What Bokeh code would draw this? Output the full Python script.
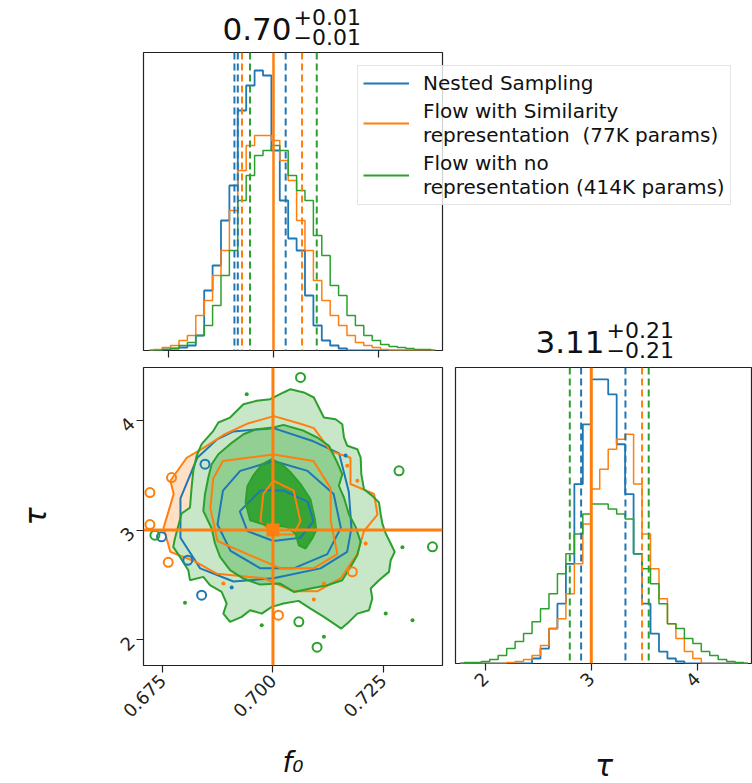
from math import pi
from bokeh.plotting import figure
from bokeh.models import (Range1d, Span, Label, Legend, LegendItem, FixedTicker,
                          NumeralTickFormatter, GridBox)
from bokeh.embed import file_html
from bokeh.resources import INLINE

BLUE = "#1f77b4"
ORANGE = "#ff7f0e"
GREEN = "#2ca02c"
FONT = "DejaVu Sans"

# ---------------- data ----------------
series_names = ["Nested Sampling",
                "Flow with Similarity\nrepresentation  (77K params)",
                "Flow with no\nrepresentation (414K params)"]

truth_f0 = 0.700
truth_tau = 3.0

f0_title = ["0.70", "+0.01", "\u22120.01"]
tau_title = ["3.11", "+0.21", "\u22120.21"]

f0_ticks = [0.675, 0.700, 0.725]
tau_ticks = [2, 3, 4]

f0_centers = [0.6705, 0.6725, 0.6745, 0.6765, 0.6785, 0.6805, 0.6825, 0.6845, 0.6865,
              0.6885, 0.6905, 0.6925, 0.6945, 0.6965, 0.6985, 0.7005, 0.7025, 0.7045,
              0.7065, 0.7085, 0.7105, 0.7125, 0.7145, 0.7165, 0.7185, 0.7205, 0.7225,
              0.7245, 0.7265, 0.7285, 0.7305, 0.7325, 0.7345, 0.7365, 0.7385]
f0_hist_blue = [0, 0, 1, 2, 3, 5, 15, 60, 85, 130, 165, 240, 265, 280, 275, 200, 150, 112,
                100, 55, 25, 10, 5, 2, 0, 0, 0, 0, 0, 0, 0, 0, 0, 0, 0]
f0_hist_orange = [0, 1, 3, 5, 10, 15, 35, 50, 75, 100, 140, 180, 205, 215, 215, 210, 190, 170,
                  130, 100, 70, 50, 35, 25, 15, 8, 5, 3, 1, 0, 0, 0, 0, 0, 0]
f0_hist_green = [0, 0, 1, 2, 5, 8, 15, 25, 45, 75, 100, 150, 175, 195, 200, 205, 200, 175,
                 160, 150, 115, 95, 65, 55, 35, 25, 15, 10, 6, 4, 3, 2, 1, 1, 0]

tau_centers = [1.76, 1.84, 1.92, 2.00, 2.08, 2.16, 2.24, 2.32, 2.40, 2.48, 2.56, 2.64, 2.72,
               2.80, 2.88, 2.96, 3.04, 3.12, 3.20, 3.28, 3.36, 3.44, 3.52, 3.60, 3.68, 3.76,
               3.84, 3.92, 4.00, 4.08, 4.16, 4.24, 4.32, 4.40, 4.48]
tau_hist_blue = [0, 0, 0, 0, 0, 0, 0, 0, 0, 5, 15, 35, 60, 100, 180, 240, 285, 285, 270, 220,
                 170, 110, 60, 30, 12, 5, 2, 0, 0, 0, 0, 0, 0, 0, 0]
tau_hist_orange = [0, 0, 0, 0, 0, 0, 1, 2, 4, 8, 18, 35, 45, 70, 100, 140, 175, 195, 215, 225,
                   230, 180, 130, 95, 65, 40, 25, 12, 5, 0, 0, 0, 0, 0, 0]
tau_hist_green = [0, 1, 1, 2, 4, 8, 15, 22, 30, 42, 55, 70, 90, 110, 130, 150, 160, 160, 155,
                  150, 145, 110, 95, 80, 60, 40, 35, 25, 20, 12, 8, 4, 2, 1, 0]

f0_q_blue = [0.6907, 0.6915, 0.7029]
f0_q_orange = [0.6925, 0.7068]
f0_q_green = [0.6944, 0.7103]
tau_q_blue = [2.904, 3.323]
tau_q_orange = [3.48]
tau_q_green = [2.797, 3.543]

# 2-D contours (f0, tau)
green_c1_x = [0.6933, 0.69632, 0.69936, 0.70239, 0.70398, 0.7070, 0.70928, 0.71004, 0.71155,
              0.7142, 0.71572, 0.7161, 0.71686, 0.71913, 0.71989, 0.72004, 0.72064, 0.72254,
              0.72405, 0.72443, 0.72481, 0.72557, 0.7267, 0.72761, 0.7267, 0.72632, 0.72405,
              0.72216, 0.72254, 0.72177, 0.71913, 0.71723, 0.7155, 0.71155, 0.70852, 0.7058,
              0.70239, 0.69973, 0.69746, 0.69482, 0.69291, 0.69027, 0.68875, 0.6895, 0.68836,
              0.68572, 0.6842, 0.68118, 0.6808, 0.6789, 0.67739, 0.67777, 0.67928, 0.68118,
              0.68155, 0.68193, 0.68268, 0.68382, 0.68648, 0.68761, 0.69027]
green_c1_y = [4.149, 4.18, 4.195, 4.256, 4.286, 4.256, 4.21, 4.149, 4.027, 4.012, 3.966,
              3.845, 3.769, 3.738, 3.662, 3.51, 3.373, 3.312, 3.251, 3.144, 3.059, 2.968,
              2.877, 2.8, 2.724, 2.618, 2.542, 2.466, 2.374, 2.268, 2.237, 2.161, 2.1, 2.207,
              2.283, 2.353, 2.329, 2.298, 2.237, 2.268, 2.207, 2.161, 2.237, 2.329, 2.435,
              2.496, 2.572, 2.542, 2.633, 2.755, 2.846, 2.922, 3.151, 3.205, 3.388, 3.54,
              3.677, 3.784, 3.906, 3.982, 4.027]
green_c2_x = [0.6933, 0.69632, 0.70011, 0.70239, 0.7070, 0.71004, 0.71269, 0.71459, 0.71572,
              0.71495, 0.7161, 0.71723, 0.71875, 0.71989, 0.71913, 0.71761, 0.71572, 0.71231,
              0.70852, 0.70473, 0.70164, 0.69709, 0.6933, 0.69027, 0.6880, 0.68686, 0.6861,
              0.6842, 0.68459, 0.68534, 0.6861, 0.68761, 0.69027]
green_c2_y = [3.875, 3.921, 3.936, 3.96, 3.906, 3.845, 3.769, 3.616, 3.51, 3.403, 3.297,
              3.144, 3.029, 2.892, 2.77, 2.664, 2.542, 2.496, 2.466, 2.435, 2.511, 2.502,
              2.557, 2.633, 2.755, 2.877, 3.014, 3.175, 3.327, 3.479, 3.601, 3.692, 3.784]
green_c3_x = [0.69973, 0.7020, 0.70391, 0.70625, 0.7085, 0.7095, 0.7098, 0.7089, 0.70739,
              0.70587, 0.70511, 0.70314, 0.69859, 0.69482, 0.6938, 0.6942, 0.69557, 0.6975]
green_c3_y = [3.647, 3.60, 3.53, 3.42, 3.28, 3.10, 3.0, 2.922, 2.831, 2.861, 2.968, 3.029,
              3.044, 3.09, 3.25, 3.40, 3.50, 3.60]

orange_c1_x = [0.70021, 0.70622, 0.70928, 0.7131, 0.71758, 0.71758, 0.72293, 0.72369, 0.72064,
               0.71911, 0.71539, 0.71004, 0.7047, 0.69792, 0.68732, 0.68198, 0.67673, 0.6752,
               0.67749, 0.67673, 0.68045, 0.68427, 0.68885, 0.6941]
orange_c1_y = [4.04, 3.97, 3.93, 3.72, 3.66, 3.42, 3.33, 3.14, 2.99, 2.78, 2.56, 2.44, 2.44,
               2.56, 2.60, 2.72, 2.80, 3.02, 3.33, 3.45, 3.66, 3.75, 3.87, 3.97]
orange_c2_x = [0.68866, 0.70011, 0.70918, 0.7131, 0.7131, 0.71462, 0.70918, 0.70174, 0.6942,
               0.68742, 0.6858, 0.68646]
orange_c2_y = [3.63, 3.69, 3.63, 3.38, 3.08, 2.78, 2.65, 2.65, 2.78, 2.90, 3.20, 3.47]
orange_c3_x = [0.70011, 0.7047, 0.70622, 0.7047, 0.70011, 0.69715, 0.69782]
orange_c3_y = [3.45, 3.36, 3.08, 2.96, 2.96, 3.08, 3.33]

blue_c1_x = [0.69105, 0.70011, 0.70918, 0.7150, 0.7172, 0.7178, 0.71682, 0.7108, 0.70011,
             0.69105, 0.6835, 0.67902, 0.67902, 0.68284, 0.68742]
blue_c1_y = [3.90, 3.93, 3.81, 3.70, 3.35, 3.02, 2.80, 2.65, 2.56, 2.53, 2.65, 2.93, 3.29,
             3.66, 3.83]
blue_c2_x = [0.69257, 0.70011, 0.70785, 0.71376, 0.71539, 0.71233, 0.7047, 0.69715, 0.69038,
             0.68742, 0.68866]
blue_c2_y = [3.54, 3.63, 3.54, 3.33, 3.02, 2.78, 2.65, 2.65, 2.81, 3.05, 3.36]
blue_c3_x = [0.69715, 0.70241, 0.70785, 0.70918, 0.70622, 0.70011, 0.6942, 0.69248]
blue_c3_y = [3.36, 3.36, 3.26, 3.08, 2.93, 2.90, 2.99, 3.17]

green_loops_x = [0.72859, 0.73618, 0.67323, 0.70587, 0.7100, 0.70625]
green_loops_y = [3.541, 2.847, 2.953, 2.162, 1.93, 4.393]
green_dots_x = [0.69405, 0.68005, 0.72936, 0.72557, 0.73164, 0.69746, 0.71155]
green_dots_y = [4.24, 2.335, 2.842, 2.237, 2.176, 2.131, 2.025]
orange_loops_x = [0.67209, 0.6770, 0.67209, 0.67625, 0.70125, 0.7180]
orange_loops_y = [3.342, 3.479, 3.05, 2.705, 2.222, 2.618]
orange_dots_x = [0.71155, 0.70927, 0.72102, 0.68875, 0.71686, 0.71914]
orange_dots_y = [2.511, 2.365, 2.877, 2.511, 3.586, 3.449]
blue_loops_x = [0.68382, 0.68459, 0.68068, 0.67473]
blue_loops_y = [2.405, 3.601, 2.724, 2.938]
blue_dots_x = [0.69064, 0.71648]
blue_dots_y = [2.475, 3.68]

# ---------------- helpers ----------------
F0_RANGE_TOP = (0.66905, 0.74024)
F0_RANGE_2D = (0.67064, 0.73845)
TAU_RANGE_Y = (1.763, 4.484)
TAU_RANGE_X = (1.7165, 4.524)
W, H = 752, 783


def style_fig(p):
    p.outline_line_color = "#222222"
    p.outline_line_width = 1.2
    p.grid.visible = False
    p.background_fill_color = "white"
    p.border_fill_color = "white"


def style_axis(ax, ticks, show_labels=True):
    ax.ticker = FixedTicker(ticks=ticks)
    ax.axis_line_color = None
    ax.major_tick_line_color = "#222222"
    ax.major_tick_line_width = 1.2
    ax.major_tick_out = 7
    ax.major_tick_in = 0
    ax.minor_tick_line_color = None
    ax.major_label_text_font = FONT
    ax.major_label_text_color = "#222222"
    ax.major_label_text_font_size = "18px"
    if show_labels:
        ax.major_label_orientation = pi / 4
    else:
        ax.major_label_overrides = {t: "" for t in ticks}
        ax.major_label_standoff = 0


# ---------------- top-left: f0 histogram ----------------
p_top = figure(frame_width=299, frame_height=298, min_border_left=143, min_border_right=310,
               min_border_top=52, min_border_bottom=14,
               x_range=Range1d(*F0_RANGE_TOP), y_range=Range1d(0, 298),
               y_axis_location=None, output_backend="svg", toolbar_location=None)
style_fig(p_top)
style_axis(p_top.xaxis[0], f0_ticks, show_labels=False)

p_top.step(f0_centers, f0_hist_blue, mode="center", line_color=BLUE, line_width=1.8)
p_top.step(f0_centers, f0_hist_orange, mode="center", line_color=ORANGE, line_width=1.5)
p_top.step(f0_centers, f0_hist_green, mode="center", line_color=GREEN, line_width=1.5)

for vals, col in [(f0_q_blue, BLUE), (f0_q_orange, ORANGE), (f0_q_green, GREEN)]:
    for v in vals:
        p_top.add_layout(Span(location=v, dimension="height", line_color=col,
                              line_width=2, line_dash="7 4"))
p_top.add_layout(Span(location=truth_f0, dimension="height", line_color=ORANGE, line_width=2.5))

# ---------------- bottom-left: 2-D ----------------
p_bl = figure(frame_width=299, frame_height=298, min_border_left=143, min_border_right=8,
              min_border_top=2, min_border_bottom=119,
              x_range=Range1d(*F0_RANGE_2D), y_range=Range1d(*TAU_RANGE_Y),
              output_backend="svg", toolbar_location=None)
style_fig(p_bl)
style_axis(p_bl.xaxis[0], f0_ticks)
style_axis(p_bl.yaxis[0], tau_ticks)
p_bl.xaxis[0].formatter = NumeralTickFormatter(format="0.000")
p_bl.xaxis[0].axis_label = "f\u2080"
p_bl.yaxis[0].axis_label = "\u03c4"
for ax in (p_bl.xaxis[0], p_bl.yaxis[0]):
    ax.axis_label_text_font = FONT
    ax.axis_label_text_font_style = "italic"
    ax.axis_label_text_color = "#111111"
p_bl.xaxis[0].axis_label_text_font_size = "28px"
p_bl.yaxis[0].axis_label_text_font_size = "30px"
p_bl.xaxis[0].axis_label_standoff = 20
p_bl.yaxis[0].axis_label_standoff = 58

# filled levels
p_bl.patch(orange_c1_x, orange_c1_y, fill_color="#ffe0c6", line_color=None)
p_bl.patch(green_c1_x, green_c1_y, fill_color="#c8e7c8", line_color=None)
p_bl.patch(green_c2_x, green_c2_y, fill_color="#92cf92", line_color=None)
p_bl.patch(green_c3_x, green_c3_y, fill_color="#36a536", line_color=None)

for xs, ys, col in [(blue_c1_x, blue_c1_y, BLUE), (blue_c2_x, blue_c2_y, BLUE),
                    (blue_c3_x, blue_c3_y, BLUE),
                    (orange_c1_x, orange_c1_y, ORANGE), (orange_c2_x, orange_c2_y, ORANGE),
                    (orange_c3_x, orange_c3_y, ORANGE),
                    (green_c1_x, green_c1_y, GREEN), (green_c2_x, green_c2_y, GREEN),
                    (green_c3_x, green_c3_y, GREEN)]:
    p_bl.patch(xs, ys, fill_color=None, line_color=col, line_width=2)

for lx, ly, dx, dy, col in [(blue_loops_x, blue_loops_y, blue_dots_x, blue_dots_y, BLUE),
                            (orange_loops_x, orange_loops_y, orange_dots_x, orange_dots_y, ORANGE),
                            (green_loops_x, green_loops_y, green_dots_x, green_dots_y, GREEN)]:
    p_bl.scatter(lx, ly, marker="circle", size=9, fill_color=None, line_color=col, line_width=2)
    p_bl.scatter(dx, dy, marker="circle", size=4, fill_color=col, line_color=None)

p_bl.add_layout(Span(location=truth_f0, dimension="height", line_color=ORANGE, line_width=3))
p_bl.add_layout(Span(location=truth_tau, dimension="width", line_color=ORANGE, line_width=3))
p_bl.scatter([truth_f0], [truth_tau], marker="square", size=13, fill_color=ORANGE, line_color=None)

# ---------------- bottom-right: tau histogram ----------------
p_br = figure(frame_width=297, frame_height=296, min_border_left=5, min_border_right=0,
              min_border_top=3, min_border_bottom=120,
              x_range=Range1d(*TAU_RANGE_X), y_range=Range1d(0, 297),
              y_axis_location=None, output_backend="svg", toolbar_location=None)
style_fig(p_br)
style_axis(p_br.xaxis[0], tau_ticks)
p_br.xaxis[0].axis_label = "\u03c4"
p_br.xaxis[0].axis_label_text_font = FONT
p_br.xaxis[0].axis_label_text_font_style = "italic"
p_br.xaxis[0].axis_label_text_font_size = "30px"
p_br.xaxis[0].axis_label_text_color = "#111111"
p_br.xaxis[0].axis_label_standoff = 52

p_br.step(tau_centers, tau_hist_blue, mode="center", line_color=BLUE, line_width=1.8)
p_br.step(tau_centers, tau_hist_orange, mode="center", line_color=ORANGE, line_width=1.5)
p_br.step(tau_centers, tau_hist_green, mode="center", line_color=GREEN, line_width=1.5)
for vals, col in [(tau_q_blue, BLUE), (tau_q_orange, ORANGE), (tau_q_green, GREEN)]:
    for v in vals:
        p_br.add_layout(Span(location=v, dimension="height", line_color=col,
                             line_width=2, line_dash="7 4"))
p_br.add_layout(Span(location=truth_tau, dimension="height", line_color=ORANGE, line_width=3))

# ---------------- transparent overlay: titles and legend ----------------
p_ov = figure(width=W, height=H, min_border=0, x_range=Range1d(0, W), y_range=Range1d(H, 0),
              x_axis_location=None, y_axis_location=None,
              output_backend="svg", toolbar_location=None)
p_ov.frame_align = False
p_ov.outline_line_color = None
p_ov.grid.visible = False
p_ov.background_fill_alpha = 0
p_ov.border_fill_alpha = 0


def title_labels(p, parts, x0, y0):
    main, up, dn = parts
    p.add_layout(Label(x=x0, y=y0, text=main, text_font=FONT, text_font_size="31px",
                       text_color="#111111", text_align="left", text_baseline="alphabetic"))
    p.add_layout(Label(x=x0 + 71, y=y0 - 12, text=up, text_font=FONT, text_font_size="22px",
                       text_color="#111111", text_align="left", text_baseline="alphabetic"))
    p.add_layout(Label(x=x0 + 71, y=y0 + 8, text=dn, text_font=FONT, text_font_size="22px",
                       text_color="#111111", text_align="left", text_baseline="alphabetic"))


title_labels(p_ov, f0_title, 222, 28)
title_labels(p_ov, tau_title, 535, 341)

# single-point lines: nothing is drawn, they only give the legend its swatches
lg_blue = p_ov.line([0], [0], line_color=BLUE, line_width=2)
lg_orange = p_ov.line([0], [0], line_color=ORANGE, line_width=2)
lg_green = p_ov.line([0], [0], line_color=GREEN, line_width=2)
legend = Legend(items=[LegendItem(label=series_names[0], renderers=[lg_blue]),
                       LegendItem(label=series_names[1], renderers=[lg_orange]),
                       LegendItem(label=series_names[2], renderers=[lg_green])],
                location=(357, H - 205))
legend.label_text_font = FONT
legend.label_text_font_size = "20px"
legend.label_text_color = "#111111"
legend.label_text_line_height = 1.1
legend.glyph_width = 46
legend.glyph_height = 22
legend.label_standoff = 14
legend.padding = 5
legend.margin = 0
legend.spacing = 4
legend.border_line_color = "#cccccc"
legend.border_line_width = 1
legend.background_fill_color = "white"
legend.background_fill_alpha = 0.8
p_ov.add_layout(legend)

layout = GridBox(children=[(p_top, 0, 0, 1, 2), (p_bl, 1, 0), (p_br, 1, 1), (p_ov, 0, 0, 2, 2)])
open("out.html", "w").write(file_html(layout, INLINE))
